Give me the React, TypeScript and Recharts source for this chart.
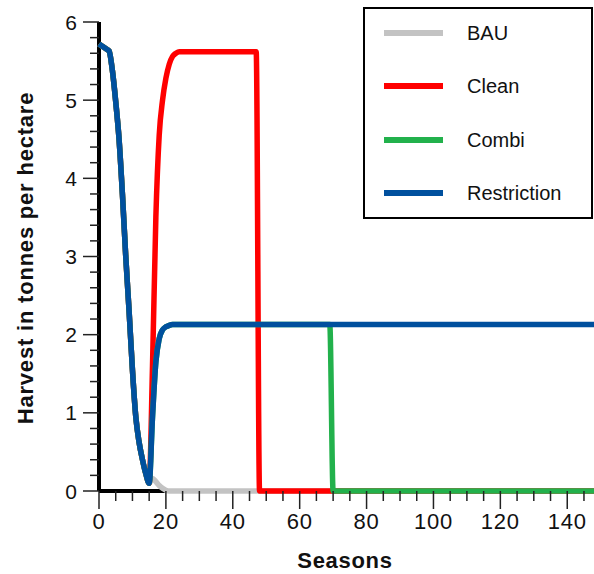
import { LineChart, Line, XAxis, YAxis } from "recharts";

// [season, harvest in t/ha]; all strategies share the decline up to season 15
const SHARED_DECLINE: [number, number][] = [
  [0, 5.72], [1, 5.69], [2, 5.66], [3, 5.63], [4, 5.38], [5, 4.98], [6, 4.5],
  [7, 3.8], [8, 3.0], [9, 2.3], [10, 1.55], [11, 0.95], [12, 0.62], [13, 0.4],
  [14, 0.22], [15, 0.1],
];

const BAU_TAIL: [number, number][] = [
  [16, 0.16], [17, 0.12], [18, 0.07], [19, 0.035], [20, 0.01], [21, 0], [148, 0],
];

const CLEAN_TAIL: [number, number][] = [
  [16, 1.6], [17, 3.5], [18, 4.55], [19, 5.0], [20, 5.28], [21, 5.46], [22, 5.56],
  [23, 5.6], [24, 5.62], [47, 5.62], [48, 0], [148, 0],
];

const RESTRICTION_RECOVERY: [number, number][] = [
  [16, 0.95], [17, 1.65], [18, 1.95], [19, 2.06], [20, 2.1], [21, 2.12], [22, 2.13],
];

const COMBI_TAIL: [number, number][] = [[69, 2.13], [70, 0], [148, 0]];
const RESTRICTION_TAIL: [number, number][] = [[148, 2.13]];

const X_DOMAIN: [number, number] = [0, 148];
const Y_DOMAIN: [number, number] = [0, 6];
const X_MAJOR = [0, 20, 40, 60, 80, 100, 120, 140];
const Y_MAJOR = [0, 1, 2, 3, 4, 5, 6];
// minor ticks every 5 seasons / 0.2 t
const X_TICKS = Array.from({ length: 30 }, (_, i) => i * 5);
const Y_TICKS = Array.from({ length: 31 }, (_, i) => i / 5);

const toPts = (arr: [number, number][]) => arr.map(([season, harvest]) => ({ season, harvest }));

const SERIES = [
  { name: "BAU", color: "#c3c3c3", data: toPts([...SHARED_DECLINE, ...BAU_TAIL]) },
  { name: "Clean", color: "#ff0000", data: toPts([...SHARED_DECLINE, ...CLEAN_TAIL]) },
  { name: "Combi", color: "#22b14c", data: toPts([...SHARED_DECLINE, ...RESTRICTION_RECOVERY, ...COMBI_TAIL]) },
  { name: "Restriction", color: "#00509e", data: toPts([...SHARED_DECLINE, ...RESTRICTION_RECOVERY, ...RESTRICTION_TAIL]) },
];

// axis lines drawn as lines underneath the series (the series cover them)
const X_AXIS_LINE = toPts([[X_DOMAIN[0], 0], [X_DOMAIN[1], 0]]);
const Y_AXIS_LINE = toPts([[0, Y_DOMAIN[0]], [0, Y_DOMAIN[1]]]);

// a few px of padding so thick lines at 0 are not clipped
const PAD = 3;
const FONT = "'Liberation Sans', Arial, sans-serif";

const XTick = ({ x, y, payload }: any) => {
  const major = X_MAJOR.includes(payload.value);
  return (
    <g>
      <line x1={x} x2={x} y1={y - PAD} y2={y + (major ? 15 : 7)} stroke="#222" strokeWidth={1.5} />
      {major && (
        <text x={x} y={y + 35} textAnchor="middle" fontSize={22} letterSpacing={0.8} fontFamily={FONT} fill="#111">
          {payload.value}
        </text>
      )}
    </g>
  );
};

const YTick = ({ x, y, payload }: any) => {
  const v = payload.value;
  const major = Y_MAJOR.some((m) => Math.abs(m - v) < 1e-6);
  return (
    <g>
      <line x1={x - (major ? 13 : 6)} x2={x + PAD} y1={y} y2={y} stroke="#222" strokeWidth={1.5} />
      {major && (
        <text x={x - 19} y={y + 7.5} textAnchor="end" fontSize={21} fontFamily={FONT} fill="#111">
          {Math.round(v)}
        </text>
      )}
    </g>
  );
};

const XTitle = ({ viewBox }: any) => (
  <text
    x={viewBox.x + viewBox.width / 2}
    y={viewBox.y + 74}
    textAnchor="middle"
    fontSize={22}
    letterSpacing={0.7}
    fontWeight="bold"
    fontFamily={FONT}
    fill="#111"
  >
    Seasons
  </text>
);

const YTitle = ({ viewBox }: any) => {
  const cx = 25;
  const cy = viewBox.y + viewBox.height / 2;
  return (
    <text
      x={cx}
      y={cy}
      transform={`rotate(-90 ${cx} ${cy})`}
      textAnchor="middle"
      dominantBaseline="central"
      fontSize={22}
      letterSpacing={0.8}
      fontWeight="bold"
      fontFamily={FONT}
      fill="#111"
    >
      Harvest in tonnes per hectare
    </text>
  );
};

export default function App() {
  return (
    <div style={{ position: "absolute", left: 0, top: 0, width: 594, height: 574, background: "#fff" }}>
      <LineChart width={594} height={574} margin={{ top: 22, right: 0, bottom: 0, left: 0 }}>
        <XAxis
          type="number"
          dataKey="season"
          domain={X_DOMAIN}
          ticks={X_TICKS}
          interval={0}
          height={80}
          padding={{ left: PAD, right: 0 }}
          axisLine={false}
          tickLine={false}
          tickSize={0}
          tickMargin={0}
          tick={<XTick />}
          label={<XTitle />}
        />
        <YAxis
          type="number"
          dataKey="harvest"
          domain={Y_DOMAIN}
          ticks={Y_TICKS}
          interval={0}
          width={96}
          padding={{ top: 0, bottom: PAD }}
          axisLine={false}
          tickLine={false}
          tickSize={0}
          tickMargin={0}
          tick={<YTick />}
          label={<YTitle />}
        />
        <Line data={X_AXIS_LINE} dataKey="harvest" type="linear" stroke="#000" strokeWidth={4}
          dot={false} activeDot={false} legendType="none" isAnimationActive={false} />
        <Line data={Y_AXIS_LINE} dataKey="harvest" type="linear" stroke="#000" strokeWidth={4}
          dot={false} activeDot={false} legendType="none" isAnimationActive={false} />
        {SERIES.map((s) => (
          <Line
            key={s.name}
            data={s.data}
            dataKey="harvest"
            name={s.name}
            type="monotone"
            stroke={s.color}
            strokeWidth={5.5}
            dot={false}
            activeDot={false}
            isAnimationActive={false}
          />
        ))}
      </LineChart>

      {/* legend box */}
      <div
        style={{
          position: "absolute",
          left: 363,
          top: 7,
          width: 230,
          height: 212,
          border: "2px solid #000",
          boxSizing: "border-box",
          background: "#fff",
        }}
      >
        {SERIES.map((s, i) => (
          <div key={s.name} style={{ position: "absolute", left: 0, top: 24 + i * 53.3, width: "100%" }}>
            <div style={{ position: "absolute", left: 19, top: -3, width: 59, height: 6, background: s.color }} />
            <div
              style={{
                position: "absolute",
                left: 102,
                top: -12,
                lineHeight: "24px",
                fontSize: 20,
                fontFamily: FONT,
                color: "#111",
                whiteSpace: "nowrap",
              }}
            >
              {s.name}
            </div>
          </div>
        ))}
      </div>
    </div>
  );
}
